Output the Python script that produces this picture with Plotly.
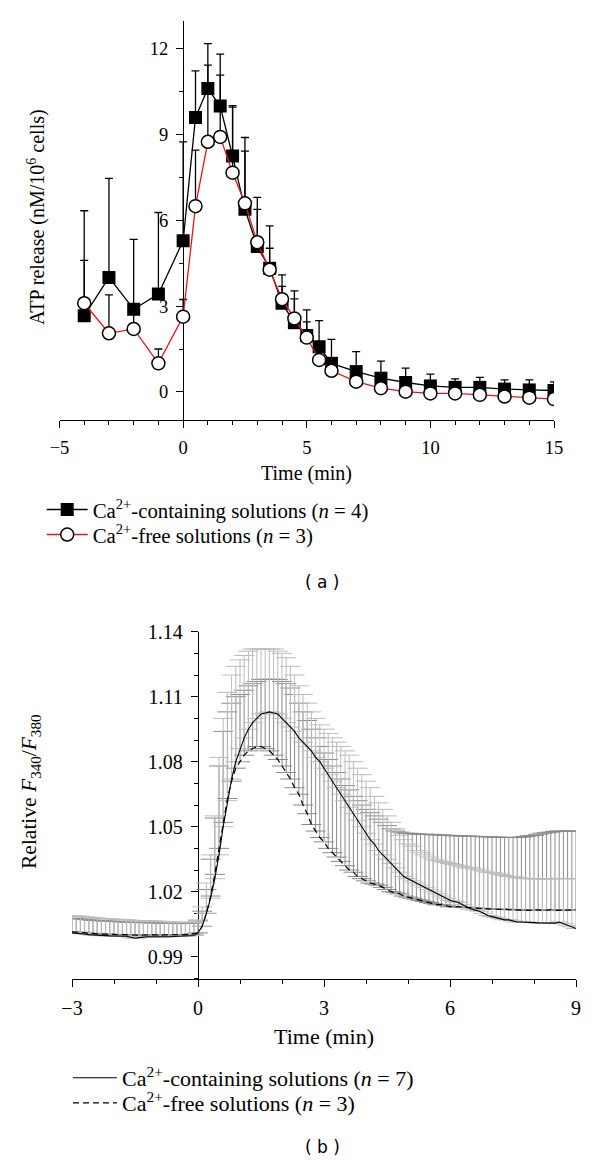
import numpy as np
import plotly.graph_objects as go

# ---------------- Panel (a): ATP release ----------------
t_a = [-4, -3, -2, -1, 0, 0.5, 1, 1.5, 2, 2.5, 3, 3.5, 4, 4.5, 5, 5.5, 6, 7, 8, 9, 10, 11, 12, 13, 14, 15]
ca_a = [2.66, 4.0, 2.89, 3.42, 5.28, 9.59, 10.6, 9.99, 8.24, 6.38, 5.08, 4.32, 3.1, 2.42, 1.97, 1.58,
        1.0, 0.71, 0.48, 0.33, 0.21, 0.16, 0.16, 0.1, 0.07, 0.05]
ca_a_err = [3.67, 3.46, 2.44, 2.85, 3.46, 1.63, 1.57, 1.81, 1.76, 2.51, 1.72, 1.48, 0.99, 1.11, 0.9, 0.91,
            0.84, 0.7, 0.6, 0.5, 0.41, 0.3, 0.35, 0.32, 0.35, 0.3]
free_a = [3.1, 2.05, 2.2, 1.0, 2.63, 6.49, 8.74, 8.91, 7.66, 6.59, 5.23, 4.27, 3.24, 2.57, 1.9, 1.12,
          0.74, 0.36, 0.13, 0.01, -0.05, -0.05, -0.1, -0.16, -0.2, -0.25]
free_a_err = [1.5, 1.34, 0.6, 0.5, 0.6, 1.96, 2.68, 2.16, 2.29, 1.82, 1.15, 0.75, 0.45, 0.68, 0.55, 0.4,
              0.3, 0.2, 0.2, 0.2, 0.2, 0.2, 0.2, 0.2, 0.2, 0.2]

# ---------------- Panel (b): relative F340/F380 ----------------
t_b = np.round(np.arange(-3.0, 9.0001, 0.1), 1)   # sampling times (min)

ca_b = [1.0010, 1.0009, 1.0007, 1.0005, 1.0002, 1.0000, 0.9998, 0.9997, 0.9997, 0.9996,
        0.9996, 0.9996, 0.9995, 0.9994, 0.9990, 0.9985, 0.9988, 0.9991, 0.9992, 0.9992,
        0.9991, 0.9991, 0.9992, 0.9992, 0.9993, 0.9993, 0.9994, 0.9995, 0.9996, 0.9998,
        1.0010, 1.004, 1.010, 1.017, 1.026, 1.037, 1.050, 1.062, 1.072, 1.080,
        1.086, 1.091, 1.095, 1.098, 1.100, 1.102, 1.1025, 1.103, 1.1025, 1.102,
        1.100, 1.098, 1.096, 1.094, 1.091, 1.089, 1.087, 1.085, 1.082, 1.080,
        1.077, 1.074, 1.071, 1.068, 1.065, 1.062, 1.059, 1.056, 1.053, 1.050,
        1.047, 1.044, 1.042, 1.039, 1.037, 1.035, 1.033, 1.031, 1.029, 1.027,
        1.026, 1.025, 1.024, 1.023, 1.022, 1.021, 1.020, 1.019, 1.018, 1.017,
        1.016, 1.0155, 1.015, 1.014, 1.013, 1.012, 1.0115, 1.011, 1.010, 1.009,
        1.0085, 1.008, 1.0075, 1.007, 1.007, 1.0065, 1.006, 1.006, 1.006, 1.0058,
        1.0057, 1.0056, 1.0055, 1.0054, 1.0053, 1.0055, 1.0060, 1.0052, 1.0045, 1.0038,
        1.0030]
ca_b_top = [1.0090, 1.0088, 1.0086, 1.0084, 1.0082, 1.0080, 1.0078, 1.0076, 1.0075, 1.0074,
            1.0073, 1.0072, 1.0071, 1.0070, 1.0068, 1.0064, 1.0066, 1.0067, 1.0066, 1.0065,
            1.0064, 1.0063, 1.0062, 1.0061, 1.0060, 1.0059, 1.0058, 1.0058, 1.0058, 1.0060,
            1.0070, 1.013, 1.024, 1.037, 1.055, 1.082, 1.100, 1.112, 1.120, 1.124,
            1.127, 1.129, 1.131, 1.132, 1.132, 1.132, 1.132, 1.132, 1.132, 1.131,
            1.130, 1.128, 1.124, 1.120, 1.115, 1.111, 1.107, 1.103, 1.100, 1.097,
            1.095, 1.093, 1.091, 1.089, 1.087, 1.085, 1.083, 1.080, 1.077, 1.074,
            1.071, 1.068, 1.064, 1.061, 1.058, 1.055, 1.052, 1.049, 1.046, 1.044,
            1.042, 1.041, 1.039, 1.038, 1.037, 1.036, 1.035, 1.0345, 1.034, 1.0335,
            1.033, 1.0325, 1.032, 1.0315, 1.031, 1.031, 1.0305, 1.030, 1.0295, 1.029,
            1.0288, 1.0285, 1.028, 1.0275, 1.027, 1.027, 1.0265, 1.0262, 1.026, 1.026,
            1.026, 1.0258, 1.0258, 1.0258, 1.026, 1.026, 1.0262, 1.026, 1.026, 1.026,
            1.026]
free_b = [1.0015, 1.0013, 1.0012, 1.0010, 1.0008, 1.0006, 1.0005, 1.0004, 1.0004, 1.0003,
          1.0003, 1.0002, 1.0002, 1.0001, 1.0000, 0.9999, 0.9999, 1.0000, 1.0000, 1.0000,
          0.9999, 0.9999, 1.0000, 1.0000, 1.0000, 1.0001, 1.0001, 1.0002, 1.0003, 1.0005,
          1.0010, 1.004, 1.010, 1.018, 1.028, 1.040, 1.052, 1.063, 1.071, 1.077,
          1.080, 1.083, 1.085, 1.086, 1.087, 1.087, 1.086, 1.085, 1.083, 1.081,
          1.078, 1.075, 1.072, 1.068, 1.065, 1.060, 1.056, 1.051, 1.048, 1.045,
          1.043, 1.040, 1.038, 1.036, 1.034, 1.032, 1.030, 1.029, 1.027, 1.026,
          1.025, 1.024, 1.0235, 1.023, 1.022, 1.021, 1.020, 1.0195, 1.019, 1.018,
          1.0175, 1.017, 1.0165, 1.016, 1.0155, 1.015, 1.0145, 1.014, 1.014, 1.0135,
          1.013, 1.0132, 1.0130, 1.0128, 1.0126, 1.0127, 1.0125, 1.0123, 1.0122, 1.0120,
          1.0121, 1.0119, 1.0118, 1.0120, 1.0117, 1.0116, 1.0118, 1.0115, 1.0116, 1.0114,
          1.0115, 1.0116, 1.0113, 1.0115, 1.0117, 1.0114, 1.0115, 1.0113, 1.0116, 1.0115,
          1.0116]
free_b_top = [1.0078, 1.0076, 1.0074, 1.0072, 1.0070, 1.0068, 1.0067, 1.0066, 1.0065, 1.0064,
              1.0063, 1.0062, 1.0061, 1.0060, 1.0059, 1.0058, 1.0058, 1.0057, 1.0057, 1.0056,
              1.0056, 1.0055, 1.0055, 1.0054, 1.0054, 1.0053, 1.0053, 1.0053, 1.0054, 1.0056,
              1.0065, 1.011, 1.021, 1.035, 1.054, 1.078, 1.094, 1.103, 1.107, 1.110,
              1.111, 1.113, 1.115, 1.116, 1.117, 1.118, 1.118, 1.118, 1.118, 1.118,
              1.117, 1.116, 1.114, 1.111, 1.107, 1.103, 1.099, 1.095, 1.091, 1.087,
              1.084, 1.081, 1.078, 1.075, 1.072, 1.069, 1.067, 1.064, 1.062, 1.060,
              1.058, 1.0565, 1.055, 1.0535, 1.052, 1.0505, 1.049, 1.048, 1.0475, 1.047,
              1.047, 1.0468, 1.0466, 1.0465, 1.0465, 1.0465, 1.0463, 1.0462, 1.0462, 1.046,
              1.046, 1.0458, 1.0458, 1.0457, 1.0457, 1.0456, 1.0455, 1.0455, 1.0454, 1.0453,
              1.0452, 1.0452, 1.0451, 1.0451, 1.045, 1.045, 1.045, 1.0452, 1.0455, 1.0458,
              1.046, 1.0465, 1.047, 1.0472, 1.0475, 1.0478, 1.048, 1.048, 1.048, 1.048,
              1.048]

ca_b_err = [max(tp - m, 0) for tp, m in zip(ca_b_top, ca_b)]
free_b_err = [max(tp - m, 0) for tp, m in zip(free_b_top, free_b)]

SERIF = "Liberation Serif"
SANS = "DejaVu Sans"
W, H = 600, 1165

# axis geometry (paper coords)
ax_dom_x = [59.5 / W, 554 / W]
ax_dom_y = [1 - 420 / H, 1 - 20.7 / H]
ax_xr = [-5, 15]
ax_yr = [-0.98, 12.97]
bx_dom_x = [72 / W, 576 / W]
bx_dom_y = [1 - 979 / H, 1 - 631.7 / H]
bx_xr = [-3, 9]
bx_yr = [0.9797, 1.14]

def zero_pos(dom, rng):
    return dom[0] + (0 - rng[0]) / (rng[1] - rng[0]) * (dom[1] - dom[0])

fig = go.Figure()

zeros_a = [0] * len(t_a)
fig.add_trace(go.Scatter(
    x=t_a, y=ca_a, mode="lines+markers",
    name="Ca<sup>2+</sup>-containing solutions (<i>n</i> = 4)",
    line=dict(color="black", width=1.3),
    marker=dict(symbol="square", size=13, color="black"),
    error_y=dict(type="data", symmetric=False, array=ca_a_err, arrayminus=zeros_a,
                 color="black", thickness=1.3, width=4),
    xaxis="x", yaxis="y", legend="legend"))
fig.add_trace(go.Scatter(
    x=t_a, y=free_a, mode="lines+markers",
    name="Ca<sup>2+</sup>-free solutions (<i>n</i> = 3)",
    line=dict(color="#e8141c", width=1.3),
    marker=dict(symbol="circle", size=13, color="white", line=dict(color="black", width=1.5)),
    error_y=dict(type="data", symmetric=False, array=free_a_err, arrayminus=zeros_a,
                 color="black", thickness=1.3, width=4),
    xaxis="x", yaxis="y", legend="legend3"))

zeros_b = [0] * len(t_b)
fig.add_trace(go.Scatter(
    x=t_b, y=free_b, mode="markers", showlegend=False, hoverinfo="skip",
    marker=dict(size=1, color="rgba(0,0,0,0)"),
    error_y=dict(type="data", symmetric=False, array=free_b_err, arrayminus=zeros_b,
                 color="#8a8a8a", thickness=1, width=10),
    xaxis="x2", yaxis="y2"))
fig.add_trace(go.Scatter(
    x=t_b, y=ca_b, mode="markers", showlegend=False, hoverinfo="skip",
    marker=dict(size=1, color="rgba(0,0,0,0)"),
    error_y=dict(type="data", symmetric=False, array=ca_b_err, arrayminus=zeros_b,
                 color="#bcbcbc", thickness=1, width=10),
    xaxis="x2", yaxis="y2"))
fig.add_trace(go.Scatter(
    x=t_b, y=ca_b, mode="lines",
    name="Ca<sup>2+</sup>-containing solutions (<i>n</i> = 7)",
    line=dict(color="black", width=1.1),
    xaxis="x2", yaxis="y2", legend="legend2"))
fig.add_trace(go.Scatter(
    x=t_b, y=free_b, mode="lines",
    name="Ca<sup>2+</sup>-free solutions (<i>n</i> = 3)",
    line=dict(color="black", width=1.2, dash="6px,4px"),
    xaxis="x2", yaxis="y2", legend="legend4"))

axis_common = dict(showgrid=False, zeroline=False, showline=True, linecolor="black", linewidth=1.3,
                   ticks="outside", tickcolor="black", tickwidth=1.3, ticklen=7,
                   layer="below traces", automargin=False)

leg_a = dict(xanchor="left", yanchor="middle", font=dict(family=SERIF, size=20.8),
             itemwidth=41, bgcolor="rgba(0,0,0,0)")
leg_b = dict(xanchor="left", yanchor="middle", font=dict(family=SERIF, size=22),
             itemwidth=44, bgcolor="rgba(0,0,0,0)")

fig.update_layout(
    width=W, height=H, autosize=False,
    margin=dict(l=0, r=0, t=0, b=0, autoexpand=False),
    paper_bgcolor="white", plot_bgcolor="white",
    font=dict(family=SERIF, size=19, color="black"),
    xaxis=dict(domain=ax_dom_x, range=ax_xr, anchor="y", tick0=-5, dtick=5,
               tickfont=dict(size=18.5), ticklabelstandoff=4,
               minor=dict(dtick=1, tick0=0, ticks="outside", ticklen=4, tickwidth=1.3, tickcolor="black"),
               **axis_common),
    yaxis=dict(domain=ax_dom_y, range=ax_yr, anchor="free", position=zero_pos(ax_dom_x, ax_xr),
               side="left", tick0=0, dtick=3, tickfont=dict(size=18.5), ticklabelstandoff=4,
               minor=dict(dtick=1.5, tick0=0, ticks="outside", ticklen=4, tickwidth=1.3, tickcolor="black"),
               **axis_common),
    xaxis2=dict(domain=bx_dom_x, range=bx_xr, anchor="y2", tick0=-3, dtick=3,
                tickfont=dict(size=20), ticklabelstandoff=4,
                minor=dict(dtick=1, tick0=0, ticks="outside", ticklen=4, tickwidth=1.3, tickcolor="black"),
                **axis_common),
    yaxis2=dict(domain=bx_dom_y, range=bx_yr, anchor="free", position=zero_pos(bx_dom_x, bx_xr),
                side="left", tick0=0.99, dtick=0.03, tickformat=".2f", tickfont=dict(size=20),
                ticklabelstandoff=4,
                minor=dict(dtick=0.01, tick0=0.99, ticks="outside", ticklen=4, tickwidth=1.3, tickcolor="black"),
                **axis_common),
    legend=dict(x=41.7 / W, y=1 - 510 / H, **leg_a),
    legend3=dict(x=41.7 / W, y=1 - 535 / H, **leg_a),
    legend2=dict(x=68 / W, y=1 - 1078 / H, **leg_b),
    legend4=dict(x=68 / W, y=1 - 1103 / H, **leg_b),
    annotations=[
        dict(text="Time (min)", x=306.7 / W, y=1 - 473 / H, xref="paper", yref="paper",
             showarrow=False, font=dict(family=SERIF, size=20), xanchor="center", yanchor="middle"),
        dict(text="ATP release (nM/10<sup>6</sup> cells)", x=37 / W, y=1 - 217 / H,
             xref="paper", yref="paper", showarrow=False, textangle=-90,
             font=dict(family=SERIF, size=20), xanchor="center", yanchor="middle"),
        dict(text="( a )", x=322 / W, y=1 - 582 / H, xref="paper", yref="paper", showarrow=False,
             font=dict(family=SANS, size=17), xanchor="center", yanchor="middle"),
        dict(text="Time (min)", x=324 / W, y=1 - 1036 / H, xref="paper", yref="paper",
             showarrow=False, font=dict(family=SERIF, size=22), xanchor="center", yanchor="middle"),
        dict(text="Relative <i>F</i><sub>340</sub>/<i>F</i><sub>380</sub>", x=31 / W, y=1 - 792 / H,
             xref="paper", yref="paper", showarrow=False, textangle=-90,
             font=dict(family=SERIF, size=21.5), xanchor="center", yanchor="middle"),
        dict(text="( b )", x=322 / W, y=1 - 1147 / H, xref="paper", yref="paper", showarrow=False,
             font=dict(family=SANS, size=17), xanchor="center", yanchor="middle"),
    ],
)

fig.write_html("out.html", config={"displayModeBar": False},
               post_script="document.body.style.margin='0';document.body.style.overflow='hidden';"
                           "document.documentElement.style.overflow='hidden';")
